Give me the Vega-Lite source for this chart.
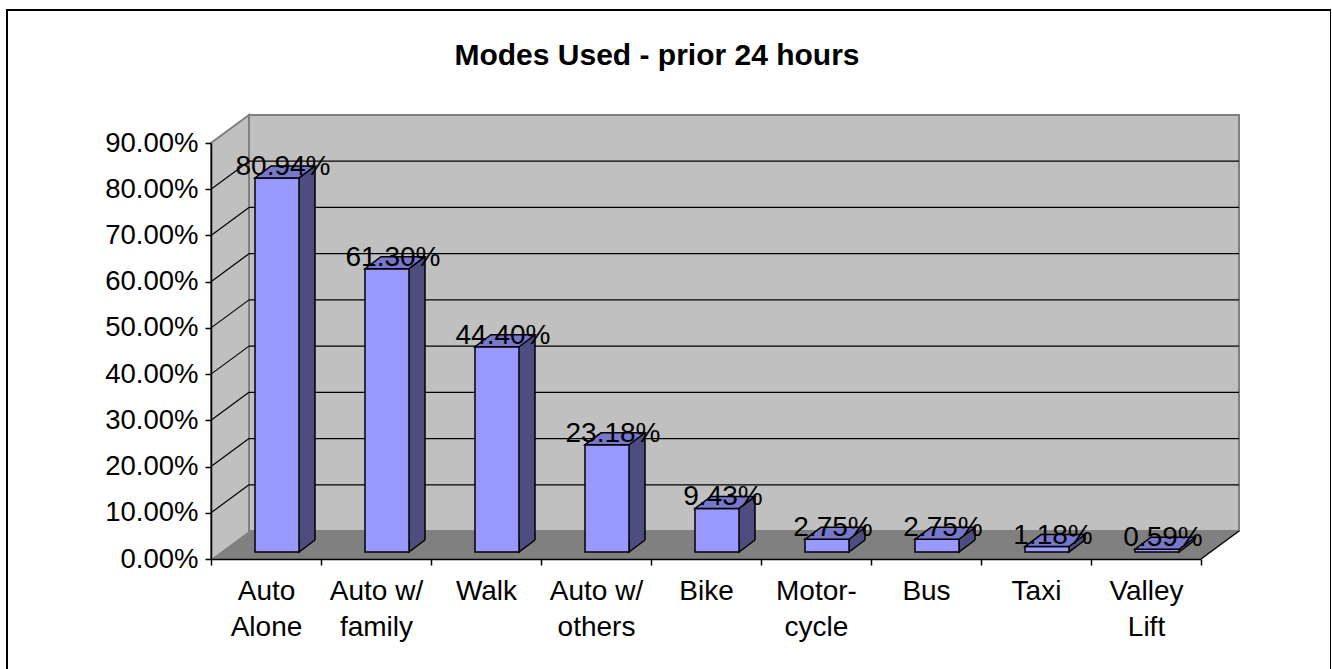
{
  "$schema": "https://vega.github.io/schema/vega-lite/v6.json",
  "width": 1324,
  "height": 665,
  "autosize": {"type": "none"},
  "padding": {"left": 7, "top": 10, "right": 0, "bottom": 0},
  "background": "white",
  "config": {
    "font": "Liberation Sans",
    "view": {"stroke": "#000000", "strokeWidth": 2}
  },
  "title": {
    "text": "Modes Used - prior 24 hours",
    "font": "Liberation Sans",
    "fontSize": 30,
    "fontWeight": "bold",
    "color": "#000000",
    "anchor": "middle",
    "frame": "group",
    "baseline": "alphabetic",
    "offset": -85,
    "dx": -12
  },
  "datasets": {
    "modes": [
      {"mode": "Auto\nAlone", "value": 0.8094},
      {"mode": "Auto w/\nfamily", "value": 0.6130},
      {"mode": "Walk", "value": 0.4440},
      {"mode": "Auto w/\nothers", "value": 0.2318},
      {"mode": "Bike", "value": 0.0943},
      {"mode": "Motor-\ncycle", "value": 0.0275},
      {"mode": "Bus", "value": 0.0275},
      {"mode": "Taxi", "value": 0.0118},
      {"mode": "Valley\nLift", "value": 0.0059}
    ],
    "grid": [
      {"v": 0.1}, {"v": 0.2}, {"v": 0.3}, {"v": 0.4},
      {"v": 0.5}, {"v": 0.6}, {"v": 0.7}, {"v": 0.8}
    ],
    "frame": [{"part": "frame"}]
  },
  "resolve": {"scale": {"x": "independent"}},
  "layer": [
    {
      "layer": [
        {
          "data": {"name": "frame"},
          "mark": {"type": "rect", "fill": "#c0c0c0", "stroke": "#808080", "strokeWidth": 2,
                   "xOffset": 38, "x2Offset": 38, "yOffset": -28, "y2Offset": -28},
          "encoding": {
            "x": {"datum": 0, "type": "quantitative", "scale": {"domain": [0, 9], "range": [204, 1194], "nice": false, "zero": false}, "axis": null},
            "x2": {"datum": 9},
            "y": {"datum": 0, "type": "quantitative", "title": null, "scale": {"domain": [0, 0.9], "range": [549, 133], "nice": false, "zero": false}},
            "y2": {"datum": 0.9}
          }
        },
        {
          "data": {"name": "frame"},
          "mark": {"type": "point", "shape": "M0,0 L0,-416 L38,-444 L38,-28", "size": 4, "filled": true,
                   "fill": "#c0c0c0", "stroke": "#808080", "strokeWidth": 2, "opacity": 1},
          "encoding": {
            "x": {"datum": 0, "type": "quantitative", "axis": null},
            "y": {"datum": 0, "type": "quantitative", "title": null}
          }
        },
        {
          "data": {"name": "frame"},
          "mark": {"type": "point", "shape": "M0,0 L38,-28 L1028,-28 L990,0 Z", "size": 4, "filled": true,
                   "fill": "#808080", "strokeWidth": 0, "opacity": 1},
          "encoding": {
            "x": {"datum": 0, "type": "quantitative", "axis": null},
            "y": {"datum": 0, "type": "quantitative", "title": null}
          }
        },
        {
          "data": {"name": "frame"},
          "mark": {"type": "rule", "color": "#000000", "strokeWidth": 1.5, "x2Offset": 38, "y2Offset": -28},
          "encoding": {
            "x": {"datum": 9, "type": "quantitative", "axis": null},
            "x2": {"datum": 9},
            "y": {"datum": 0, "type": "quantitative", "title": null},
            "y2": {"datum": 0}
          }
        },
        {
          "data": {"name": "grid"},
          "mark": {"type": "rule", "color": "#000000", "strokeWidth": 1.2, "xOffset": 38, "x2Offset": 38, "yOffset": -28},
          "encoding": {
            "x": {"datum": 0, "type": "quantitative", "axis": null},
            "x2": {"datum": 9},
            "y": {"field": "v", "type": "quantitative", "title": null}
          }
        },
        {
          "data": {"name": "grid"},
          "mark": {"type": "rule", "color": "#000000", "strokeWidth": 1.2, "x2Offset": 38, "y2Offset": -28},
          "encoding": {
            "x": {"datum": 0, "type": "quantitative", "axis": null},
            "x2": {"datum": 0},
            "y": {"field": "v", "type": "quantitative", "title": null},
            "y2": {"field": "v"}
          }
        }
      ]
    },
    {
      "data": {"name": "modes"},
      "layer": [
        {
          "mark": {"type": "bar", "width": 16, "fill": "#4d4d80", "strokeWidth": 0,
                   "xOffset": 41, "yOffset": -19, "y2Offset": -19},
          "encoding": {
            "x": {"field": "mode", "type": "nominal", "sort": null, "title": null,
                  "scale": {"type": "band", "paddingInner": 0, "paddingOuter": 0, "range": [204, 1194]},
                  "axis": {
                    "orient": "bottom", "offset": -116, "tickBand": "extent",
                    "labelExpr": "split(datum.label, '\\n')",
                    "labelFont": "Liberation Sans", "labelFontSize": 28, "labelLineHeight": 36,
                    "labelColor": "#000000", "labelAngle": 0, "labelPadding": 12,
                    "tickSize": 6, "tickColor": "#000000", "tickWidth": 1.5,
                    "domainColor": "#000000", "domainWidth": 1.5,
                    "grid": false, "title": null, "zindex": 1
                  }},
            "y": {"field": "value", "type": "quantitative", "title": null,
                  "scale": {"domain": [0, 0.9], "range": [549, 133], "nice": false, "zero": false},
                  "axis": {
                    "orient": "left", "offset": -204,
                    "values": [0, 0.1, 0.2, 0.3, 0.4, 0.5, 0.6, 0.7, 0.8, 0.9],
                    "format": ".2%",
                    "labelFont": "Liberation Sans", "labelFontSize": 27.5, "labelColor": "#000000",
                    "labelPadding": 7, "labelFlush": false, "labelOverlap": false,
                    "tickSize": 6, "tickColor": "#000000", "tickWidth": 1.5,
                    "domainColor": "#000000", "domainWidth": 1.5,
                    "grid": false, "title": null, "zindex": 1
                  }},
            "y2": {"datum": 0}
          }
        },
        {
          "mark": {"type": "point", "shape": "M16,-12 L0,0 L0,-12", "size": 4, "filled": true,
                   "fill": "#4d4d80", "stroke": "#000000", "strokeWidth": 1.5, "opacity": 1,
                   "xOffset": 33, "yOffset": -7},
          "encoding": {
            "x": {"field": "mode", "type": "nominal", "sort": null, "title": null},
            "y": {"datum": 0, "type": "quantitative", "title": null}
          }
        },
        {
          "mark": {"type": "rule", "color": "#000000", "strokeWidth": 1.5,
                   "xOffset": 49, "x2Offset": 49, "yOffset": -19, "y2Offset": -19},
          "encoding": {
            "x": {"field": "mode", "type": "nominal", "sort": null, "title": null},
            "y": {"field": "value", "type": "quantitative", "title": null},
            "y2": {"datum": 0}
          }
        },
        {
          "mark": {"type": "bar", "width": 44, "fill": "#9999ff", "stroke": "#000000", "strokeWidth": 1.5,
                   "xOffset": 11, "yOffset": -7, "y2Offset": -7},
          "encoding": {
            "x": {"field": "mode", "type": "nominal", "sort": null, "title": null},
            "y": {"field": "value", "type": "quantitative", "title": null},
            "y2": {"datum": 0}
          }
        },
        {
          "mark": {"type": "point", "shape": "M0,0 L44,0 L60,-12 L16,-12 Z", "size": 4, "filled": true,
                   "fill": "#7777cc", "stroke": "#000000", "strokeWidth": 1.5, "opacity": 1,
                   "xOffset": -11, "yOffset": -7},
          "encoding": {
            "x": {"field": "mode", "type": "nominal", "sort": null, "title": null},
            "y": {"field": "value", "type": "quantitative", "title": null}
          }
        },
        {
          "mark": {"type": "text", "font": "Liberation Sans", "fontSize": 28, "color": "#000000",
                   "align": "center", "baseline": "alphabetic", "dx": 17, "dy": -10},
          "encoding": {
            "x": {"field": "mode", "type": "nominal", "sort": null, "title": null},
            "y": {"field": "value", "type": "quantitative", "title": null},
            "text": {"field": "value", "type": "quantitative", "format": ".2%"}
          }
        }
      ]
    }
  ]
}
